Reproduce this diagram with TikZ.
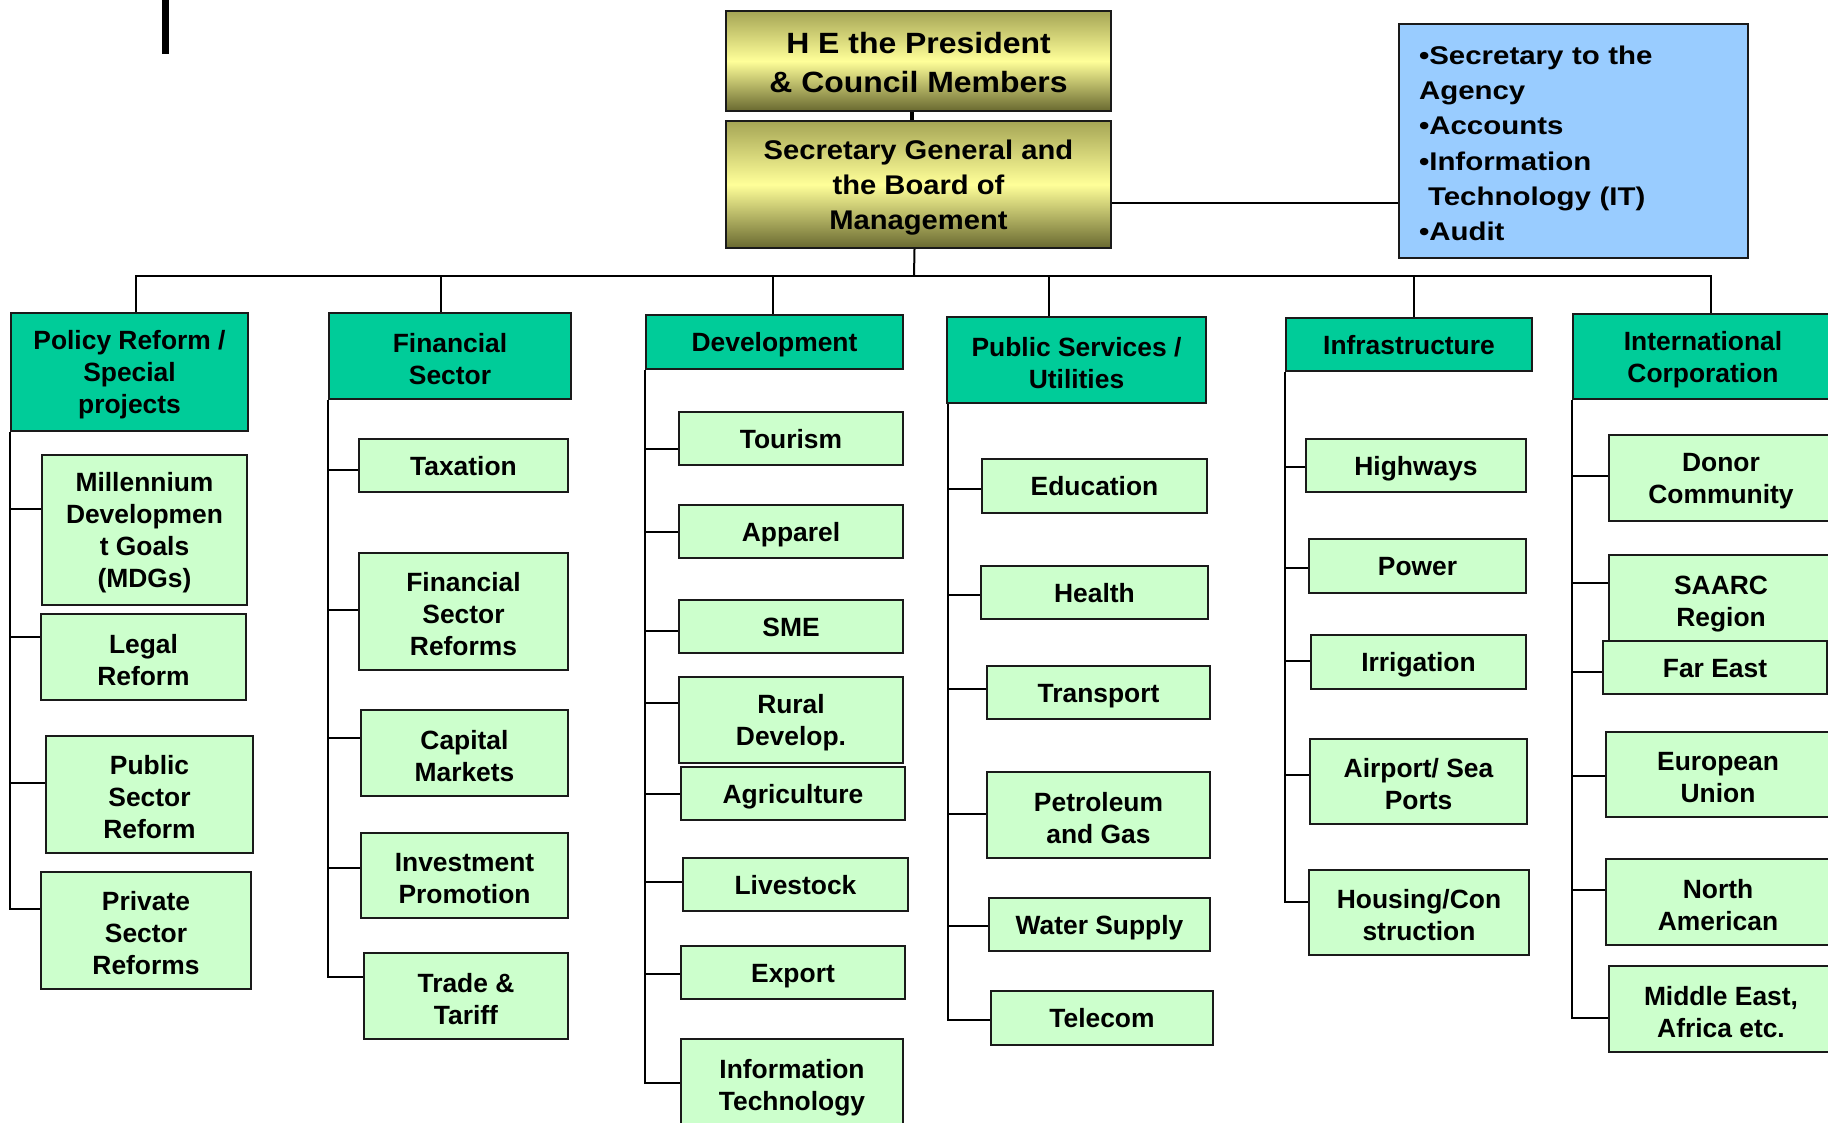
\documentclass[tikz,border=0pt]{standalone}
\usepackage{fontspec}
\setmainfont{Liberation Sans}
\newfontfamily\topfontA[FakeStretch=1.09]{Liberation Sans}
\newfontfamily\topfontB[FakeStretch=1.08]{Liberation Sans}
\newfontfamily\bluefont[FakeStretch=1.15]{Liberation Sans}
\usetikzlibrary{calc}
\definecolor{hdrgreen}{HTML}{00CC99}
\definecolor{kidgreen}{HTML}{CCFFCC}
\definecolor{sideblue}{HTML}{99CCFF}
\definecolor{oliveTop}{RGB}{165,165,85}
\definecolor{oliveMid}{RGB}{255,255,153}
\definecolor{oliveBot}{RGB}{105,105,48}
\definecolor{edge}{HTML}{1A1A1A}
\tikzset{
  boxbase/.style={draw=edge, line width=2pt, inner sep=0pt, align=center,
    font=\bfseries\fontsize{26.4}{32}\selectfont},
  hdrbox/.style={boxbase, fill=hdrgreen},
  kidbox/.style={boxbase, fill=kidgreen},
  goldA/.style={boxbase, top color=oliveTop, bottom color=oliveBot, middle color=oliveMid,
    font=\topfontA\bfseries\fontsize{29.3}{39.3}\selectfont},
  goldB/.style={boxbase, top color=oliveTop, bottom color=oliveBot, middle color=oliveMid,
    font=\topfontB\bfseries\fontsize{27}{35}\selectfont},
  bluebox/.style={draw=edge, line width=2pt, fill=sideblue, inner ysep=0pt, inner xsep=20pt,
    align=left, text width=309pt, font=\bluefont\bfseries\fontsize{25.6}{35.3}\selectfont},
  link/.style={draw=black, line width=2pt},
  thicklink/.style={draw=black, line width=4pt}
}
\newcommand\bxh{0.95em}
% \bx{name}{x1}{y1}{x2}{y2}{style}{text}
\newcommand\bx[7]{\node[#6, minimum width={#4pt-#2pt}, minimum height={#5pt-#3pt}] (#1) at ({(#2+#4)/2},{(#3+#5)/2}) {\rule[-0.21em]{0pt}{\dimexpr\bxh+0.21em\relax}#7};}
\begin{document}
\begin{tikzpicture}[x=1pt,y=-1pt]
\useasboundingbox (0,0) rectangle (1828,1123);
\clip (0,0) rectangle (1828,1123);
\fill[white] (0,0) rectangle (1828,1123);
% stray black bar
\fill[black] (162,0) rectangle (169,54);

% top boxes
\renewcommand\bxh{0.85em}
\bx{top1}{726}{11}{1111}{111}{goldA}{H E the President\\\& Council Members}
\renewcommand\bxh{0.95em}
\bx{top2}{726}{121}{1111}{248}{goldB}{Secretary General and\\the Board of\\Management}
\renewcommand\bxh{0.9em}
\bx{side}{1399}{24}{1748}{258}{bluebox}{\textbullet Secretary to the\\Agency\\\textbullet Accounts\\\textbullet Information\\\hspace*{9pt}Technology (IT)\\\textbullet Audit}
\renewcommand\bxh{0.95em}

% headers
\bx{pol}{11}{313}{248}{431}{hdrbox}{Policy Reform /\\Special\\projects}
\bx{fin}{329}{313}{571}{399}{hdrbox}{Financial\\Sector}
\bx{dev}{646}{315}{903}{369}{hdrbox}{Development}
\bx{pub}{947}{317}{1206}{403}{hdrbox}{Public Services /\\Utilities}
\bx{inf}{1286}{318}{1532}{371}{hdrbox}{Infrastructure}
\bx{int}{1573}{314}{1833}{399}{hdrbox}{International\\Corporation}

% connectors at top
\coordinate (bus) at (914,276);
\coordinate (sidep) at ([yshift=-18.5pt]top2.east);
\draw[thicklink] ([xshift=-7pt]top1.south) -- ([xshift=-7pt]top2.north);
\draw[link] ([xshift=-4pt]top2.south) -- (bus);
\draw[link] (sidep) -- (sidep -| side.west);
\draw[link] ([xshift=6.5pt]pol.north) |- (bus);
\draw[link] ([xshift=-9pt]fin.north) |- (bus);
\draw[link] ([xshift=-1.5pt]dev.north) |- (bus);
\draw[link] ([xshift=-27.5pt]pub.north) |- (bus);
\draw[link] ([xshift=5pt]inf.north) |- (bus);
\draw[link] ([xshift=8pt]int.north) |- (bus);

% Policy column
\bx{pr1}{42}{455}{247}{605}{kidbox}{Millennium\\Developmen\\t Goals\\(MDGs)}
\bx{pr2}{41}{614}{246}{700}{kidbox}{Legal\\Reform}
\bx{pr3}{46}{736}{253}{853}{kidbox}{Public\\Sector\\Reform}
\bx{pr4}{41}{872}{251}{989}{kidbox}{Private\\Sector\\Reforms}
\draw[link] (pol.south west) |- ([yshift=-55pt]pr1.north west);
\draw[link] (pol.south west) |- ([yshift=-24pt]pr2.north west);
\draw[link] (pol.south west) |- ([yshift=-48pt]pr3.north west);
\draw[link] (pol.south west) |- ([yshift=-38pt]pr4.north west);

% Financial column
\bx{fs1}{359}{439}{568}{492}{kidbox}{Taxation}
\bx{fs2}{359}{553}{568}{670}{kidbox}{Financial\\Sector\\Reforms}
\bx{fs3}{361}{710}{568}{796}{kidbox}{Capital\\Markets}
\bx{fs4}{361}{833}{568}{918}{kidbox}{Investment\\Promotion}
\bx{fs5}{364}{953}{568}{1039}{kidbox}{Trade \&\\Tariff}
\draw[link] (fin.south west) |- ([yshift=-32pt]fs1.north west);
\draw[link] (fin.south west) |- ([yshift=-58pt]fs2.north west);
\draw[link] (fin.south west) |- ([yshift=-29pt]fs3.north west);
\draw[link] (fin.south west) |- ([yshift=-36pt]fs4.north west);
\draw[link] (fin.south west) |- ([yshift=-25pt]fs5.north west);

% Development column
\bx{dv1}{679}{412}{903}{465}{kidbox}{Tourism}
\bx{dv2}{679}{505}{903}{558}{kidbox}{Apparel}
\bx{dv3}{679}{600}{903}{653}{kidbox}{SME}
\bx{dv4}{679}{677}{903}{763}{kidbox}{Rural\\Develop.}
\bx{dv5}{681}{767}{905}{820}{kidbox}{Agriculture}
\bx{dv6}{683}{858}{908}{911}{kidbox}{Livestock}
\bx{dv7}{681}{946}{905}{999}{kidbox}{Export}
\bx{dv8}{681}{1039}{903}{1131}{kidbox}{Information\\Technology}
\draw[link] (dev.south west) |- ([yshift=-38pt]dv1.north west);
\draw[link] (dev.south west) |- ([yshift=-28pt]dv2.north west);
\draw[link] (dev.south west) |- ([yshift=-32pt]dv3.north west);
\draw[link] (dev.south west) |- ([yshift=-27pt]dv4.north west);
\draw[link] (dev.south west) |- ([yshift=-28pt]dv5.north west);
\draw[link] (dev.south west) |- ([yshift=-25pt]dv6.north west);
\draw[link] (dev.south west) |- ([yshift=-29pt]dv7.north west);
\draw[link] (dev.south west) |- ([yshift=-45pt]dv8.north west);

% Public services column
\bx{ps1}{982}{459}{1207}{513}{kidbox}{Education}
\bx{ps2}{981}{566}{1208}{619}{kidbox}{Health}
\bx{ps3}{987}{666}{1210}{719}{kidbox}{Transport}
\bx{ps4}{987}{772}{1210}{858}{kidbox}{Petroleum\\and Gas}
\bx{ps5}{989}{898}{1210}{951}{kidbox}{Water Supply}
\bx{ps6}{991}{991}{1213}{1045}{kidbox}{Telecom}
\draw[link] ([xshift=2pt]pub.south west) |- ([yshift=-31pt]ps1.north west);
\draw[link] ([xshift=2pt]pub.south west) |- ([yshift=-30pt]ps2.north west);
\draw[link] ([xshift=2pt]pub.south west) |- ([yshift=-24pt]ps3.north west);
\draw[link] ([xshift=2pt]pub.south west) |- ([yshift=-43pt]ps4.north west);
\draw[link] ([xshift=2pt]pub.south west) |- ([yshift=-29pt]ps5.north west);
\draw[link] ([xshift=2pt]pub.south west) |- ([yshift=-30pt]ps6.north west);

% Infrastructure column
\bx{in1}{1306}{439}{1526}{492}{kidbox}{Highways}
\bx{in2}{1309}{539}{1526}{593}{kidbox}{Power}
\bx{in3}{1311}{635}{1526}{689}{kidbox}{Irrigation}
\bx{in4}{1310}{739}{1527}{824}{kidbox}{Airport/ Sea\\Ports}
\bx{in5}{1309}{870}{1529}{955}{kidbox}{Housing/Con\\struction}
\draw[link] (inf.south west) |- ([yshift=-29pt]in1.north west);
\draw[link] (inf.south west) |- ([yshift=-30pt]in2.north west);
\draw[link] (inf.south west) |- ([yshift=-27pt]in3.north west);
\draw[link] (inf.south west) |- ([yshift=-37pt]in4.north west);
\draw[link] (inf.south west) |- ([yshift=-33pt]in5.north west);

% International column
\bx{ic1}{1609}{435}{1833}{521}{kidbox}{Donor\\Community}
\bx{ic2}{1609}{555}{1833}{646}{kidbox}{SAARC\\Region}
\bx{ic3}{1603}{641}{1827}{694}{kidbox}{Far East}
\bx{ic4}{1606}{732}{1830}{817}{kidbox}{European\\Union}
\bx{ic5}{1606}{859}{1830}{945}{kidbox}{North\\American}
\bx{ic6}{1609}{966}{1833}{1052}{kidbox}{Middle East,\\Africa etc.}
\draw[link] (int.south west) |- ([yshift=-42pt]ic1.north west);
\draw[link] (int.south west) |- ([yshift=-29pt]ic2.north west);
\draw[link] (int.south west) |- ([yshift=-32pt]ic3.north west);
\draw[link] (int.south west) |- ([yshift=-45pt]ic4.north west);
\draw[link] (int.south west) |- ([yshift=-32pt]ic5.north west);
\draw[link] (int.south west) |- ([yshift=-53pt]ic6.north west);
\end{tikzpicture}
\end{document}
